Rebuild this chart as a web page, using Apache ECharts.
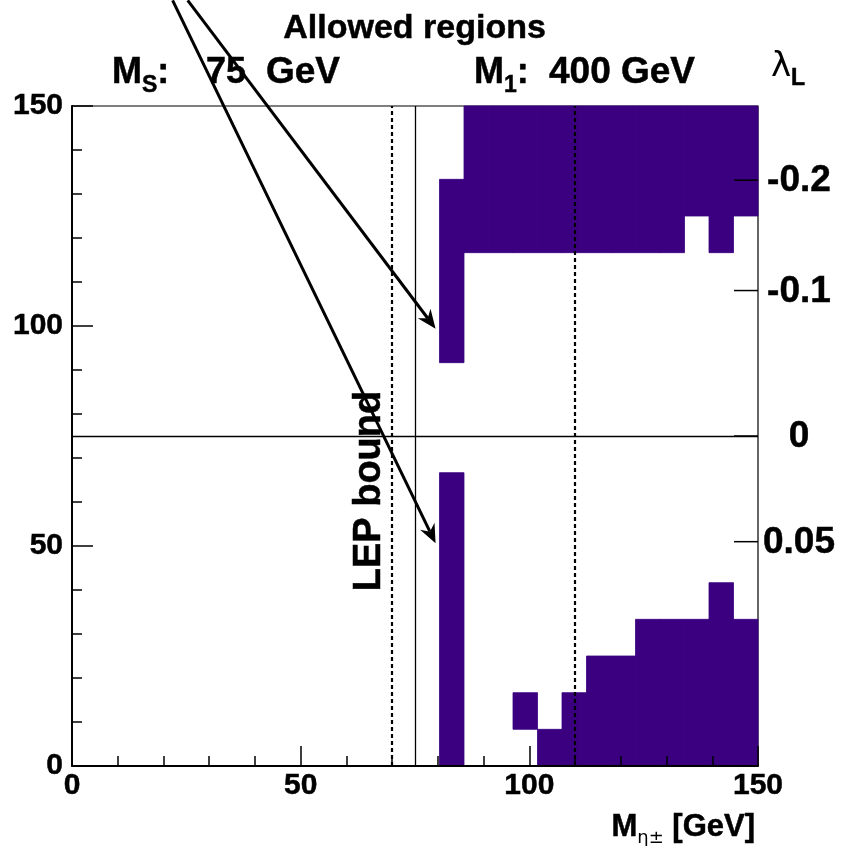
<!DOCTYPE html>
<html>
<head>
<meta charset="utf-8">
<script src="https://cdn.jsdelivr.net/npm/echarts@6/dist/echarts.min.js"></script>
<style>
html,body{margin:0;padding:0;background:#fff;}
#chart{width:843px;height:846px;}
</style>
</head>
<body>
<div id="chart"></div>
<script>
// ---- data ----
const xRange = [0, 150];            // M_eta± [GeV]
const yRange = [0, 150];            // M_S-like axis
const nBinsX = 28;
const nBinsY = 18;
// allowed cells: [xBin, yBinFrom, yBinTo] (inclusive runs)
const allowedRuns = [
  [15, 0, 7], [15, 11, 15],
  [16, 14, 17], [17, 14, 17], [18, 14, 17], [19, 14, 17], [20, 14, 17],
  [21, 14, 17], [22, 14, 17], [23, 14, 17], [24, 14, 17], [25, 15, 17],
  [26, 14, 17], [27, 15, 17],
  [18, 1, 1], [19, 0, 0], [20, 0, 1], [21, 0, 2], [22, 0, 2],
  [23, 0, 3], [24, 0, 3], [25, 0, 3], [26, 0, 4], [27, 0, 3]
];
const xTickLabels = [0, 50, 100, 150];
const yTickLabels = [0, 50, 100, 150];
const lambdaTicks = [-0.2, -0.1, 0, 0.05];
const lambdaTickLabels = ['-0.2', '-0.1', '0', '0.05'];
const massS = 75;        // GeV
const vev = 246;         // GeV
const dashedX = [70, 110];
const solidX = [75];
const solidY = [75];
// arrows: [fromX, fromY, toX, toY] in data units
const arrows = [
  [25.3, 174, 79.5, 99.4],
  [22.0, 174, 79.5, 50.6]
];

// ---- chart ----
const purple = '#3a0080';
const chart = echarts.init(document.getElementById('chart'), null, {renderer: 'canvas'});
const bw = (xRange[1] - xRange[0]) / nBinsX;
const bh = (yRange[1] - yRange[0]) / nBinsY;
const cellData = allowedRuns.map(r => [r[0] * bw, r[1] * bh, (r[0] + 1) * bw, (r[2] + 1) * bh]);
const lambdaY = l => Math.sqrt(massS * massS - l * vev * vev);
const lambdaData = lambdaTicks.map((l, i) => [150, lambdaY(l), lambdaTickLabels[i]]);
const fontFam = '"Liberation Sans", Arial, Helvetica, sans-serif';
const heavy = {stroke: '#000', lineWidth: 0.5};

const option = {
  animation: false,
  backgroundColor: '#fff',
  grid: {left: 72, right: 85, top: 106, bottom: 80, show: true, borderColor: '#000', borderWidth: 1.2, backgroundColor: 'transparent'},
  xAxis: {
    type: 'value', min: xRange[0], max: xRange[1], interval: 50, z: 10,
    axisLine: {show: true, onZero: false, lineStyle: {color: '#000', width: 2}},
    axisTick: {show: true, inside: true, length: 20, lineStyle: {color: '#000', width: 1.5}},
    minorTick: {show: true, splitNumber: 5, length: 10, lineStyle: {color: '#000', width: 1.5}},
    splitLine: {show: false},
    axisLabel: {show: true, margin: 5, color: '#000', fontFamily: fontFam, fontWeight: 'bold', fontSize: 30,
      textBorderColor: '#000', textBorderWidth: 0.5,
      formatter: v => xTickLabels.includes(v) ? String(v) : ''}
  },
  yAxis: {
    type: 'value', min: yRange[0], max: yRange[1], interval: 50, z: 10,
    axisLine: {show: true, onZero: false, lineStyle: {color: '#000', width: 2}},
    axisTick: {show: true, inside: true, length: 21, lineStyle: {color: '#000', width: 1.5}},
    minorTick: {show: true, splitNumber: 5, length: 10, lineStyle: {color: '#000', width: 1.5}},
    splitLine: {show: false},
    axisLabel: {show: true, margin: 9, color: '#000', fontFamily: fontFam, fontWeight: 'bold', fontSize: 30,
      textBorderColor: '#000', textBorderWidth: 0.5,
      formatter: v => yTickLabels.includes(v) ? String(v) : ''}
  },
  series: [
    {
      type: 'custom', name: 'allowed', z: 2, clip: false,
      data: cellData,
      encode: {x: [0, 2], y: [1, 3]},
      renderItem: (params, api) => {
        const p0 = api.coord([api.value(0), api.value(3)]);
        const p1 = api.coord([api.value(2), api.value(1)]);
        return {type: 'rect', shape: {x: p0[0], y: p0[1], width: p1[0] - p0[0], height: p1[1] - p0[1]},
          style: {fill: purple, stroke: purple, lineWidth: 0.8}};
      }
    },
    {
      type: 'line', data: [], z: 5, silent: true,
      markLine: {
        silent: true, symbol: 'none', label: {show: false}, animation: false,
        data: [
          ...dashedX.map(x => ({xAxis: x, lineStyle: {color: '#000', width: 2.2, type: [4, 3]}})),
          ...solidX.map(x => ({xAxis: x, lineStyle: {color: '#000', width: 1.3, type: 'solid'}})),
          ...solidY.map(y => ({yAxis: y, lineStyle: {color: '#000', width: 1.3, type: 'solid'}}))
        ]
      }
    },
    {
      type: 'custom', name: 'lambda', z: 11, clip: false,
      data: lambdaData,
      encode: {x: 0, y: 1},
      renderItem: (params, api) => {
        const p = api.coord([api.value(0), api.value(1)]);
        const lbl = lambdaTickLabels[params.dataIndex];
        return {type: 'group', children: [
          {type: 'line', shape: {x1: p[0] - 24, y1: p[1], x2: p[0], y2: p[1]}, style: {stroke: '#000', lineWidth: 1.5}},
          {type: 'text', style: Object.assign({text: lbl, x: p[0] + 41, y: p[1] + 1, align: 'center', verticalAlign: 'middle',
            font: 'bold 37px ' + fontFam, fill: '#000'}, heavy)}
        ]};
      }
    },
    {
      type: 'custom', name: 'arrows', z: 12, clip: false,
      data: arrows,
      encode: {x: [0, 2], y: [1, 3]},
      renderItem: (params, api) => {
        const a = api.coord([api.value(0), api.value(1)]);
        const b = api.coord([api.value(2), api.value(3)]);
        const dx = b[0] - a[0], dy = b[1] - a[1];
        const L = Math.hypot(dx, dy), ux = dx / L, uy = dy / L, nx = -uy, ny = ux;
        const hl = 19, hw = 8, notch = 13;
        const back = [b[0] - ux * hl, b[1] - uy * hl];
        const mid = [b[0] - ux * notch, b[1] - uy * notch];
        return {type: 'group', children: [
          {type: 'line', shape: {x1: a[0], y1: a[1], x2: mid[0], y2: mid[1]}, style: {stroke: '#000', lineWidth: 3}},
          {type: 'polygon', shape: {points: [b, [back[0] + nx * hw, back[1] + ny * hw], mid, [back[0] - nx * hw, back[1] - ny * hw]]},
            style: {fill: '#000'}}
        ]};
      }
    }
  ],
  graphic: [
    {type: 'text', left: 283, top: 11, z: 20, style: Object.assign({text: 'Allowed regions', font: 'bold 34px ' + fontFam, fill: '#000'}, heavy)},
    {type: 'text', x: 112, y: 91, z: 20, style: {
      text: '{m|M}{s|S}{m|:}', verticalAlign: 'bottom',
      rich: {m: Object.assign({font: 'bold 36px ' + fontFam, fill: '#000', verticalAlign: 'bottom'}, heavy),
             s: Object.assign({font: 'bold 23px ' + fontFam, fill: '#000', verticalAlign: 'bottom', padding: [0, 0, -6, 0]}, heavy)}}},
    {type: 'text', x: 206, y: 91, z: 20, style: Object.assign({text: '75', font: 'bold 36px ' + fontFam, fill: '#000', verticalAlign: 'bottom'}, heavy)},
    {type: 'text', x: 266, y: 91, z: 20, style: Object.assign({text: 'GeV', font: 'bold 37px ' + fontFam, fill: '#000', verticalAlign: 'bottom'}, heavy)},
    {type: 'text', x: 474, y: 91, z: 20, style: {
      text: '{m|M}{s|1}{m|:}', verticalAlign: 'bottom',
      rich: {m: Object.assign({font: 'bold 36px ' + fontFam, fill: '#000', verticalAlign: 'bottom'}, heavy),
             s: Object.assign({font: 'bold 23px ' + fontFam, fill: '#000', verticalAlign: 'bottom', padding: [0, 0, -6, 0]}, heavy)}}},
    {type: 'text', x: 549, y: 91, z: 20, style: Object.assign({text: '400 GeV', font: 'bold 37px ' + fontFam, fill: '#000', verticalAlign: 'bottom'}, heavy)},
    {type: 'text', x: 771, y: 90, z: 20, style: {
      text: '{l|λ}{s|L}', verticalAlign: 'bottom',
      rich: {l: {font: '34px "DejaVu Sans", ' + fontFam, fill: '#000', verticalAlign: 'bottom', padding: [0, 0, 6, 0]},
             s: Object.assign({font: 'bold 23px ' + fontFam, fill: '#000', verticalAlign: 'bottom'}, heavy)}}},
    {type: 'text', x: 755, y: 843, z: 20, style: {
      text: '{m|M}{s|η±}{m| [GeV]}', align: 'right', verticalAlign: 'bottom',
      rich: {m: Object.assign({font: 'bold 31px ' + fontFam, fill: '#000', verticalAlign: 'bottom'}, heavy),
             s: {font: '18px "DejaVu Sans", ' + fontFam, fill: '#000', verticalAlign: 'bottom', padding: [0, 0, -4, 0]}}}},
    {type: 'text', x: 370, y: 491, rotation: Math.PI / 2, z: 20, style: Object.assign({
      text: 'LEP bound', align: 'center', verticalAlign: 'middle', font: 'bold 38px ' + fontFam, fill: '#000'}, heavy)}
  ]
};
chart.setOption(option);
</script>
</body>
</html>
